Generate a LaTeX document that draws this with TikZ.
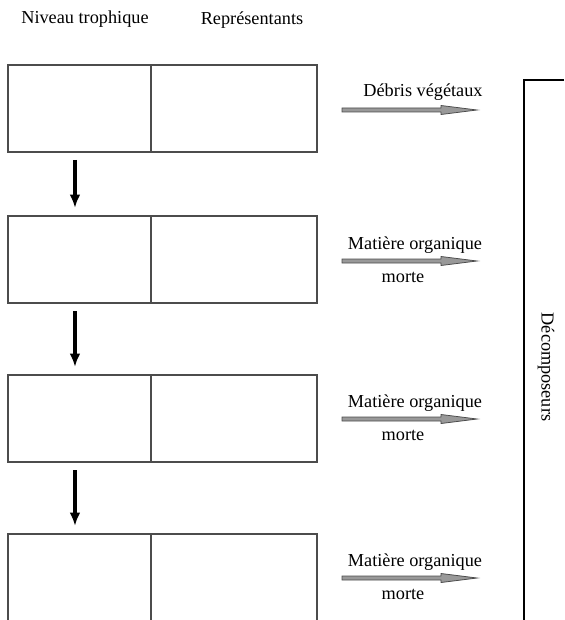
\documentclass[tikz,border=0pt]{standalone}
\usepackage{fontspec}
\setmainfont{Liberation Serif}
\usetikzlibrary{arrows.meta}

\tikzset{
  cellule/.style={draw=black!70, line width=0.8pt, inner sep=0pt, outer sep=0pt,
    anchor=north west, minimum height=65.25pt},
  descente/.style={line width=2.7pt, -{Latex[width=8pt,length=10pt]},
    shorten <=6pt, shorten >=6pt},
  etiquette/.style={font=\fontsize{13.7}{16}\selectfont, inner sep=0pt},
  flux/.pic={
    \draw[draw=black!70, fill=black!40, line width=0.6pt]
      (0,-2) -- (99,-2) -- (99,-4.5) -- (135,0) -- (99,4.5) -- (99,2) -- (0,2) -- cycle;
  },
}

\begin{document}
\begin{tikzpicture}[x=0.75pt, y=-0.75pt]
    \clip (0,0) rectangle (564,620);
    % titres des colonnes
    \node[etiquette] (titreniv) at (85,19) {Niveau trophique};
    \node[etiquette] (titrerep) at (252,20) {Représentants};
    % les cases
    \foreach \i/\y in {1/65,2/216,3/375,4/534}{
        \node[cellule, minimum width=107.25pt] (niv\i) at (8,\y) {};
        \node[cellule, minimum width=124.5pt] (rep\i) at (niv\i.north east) {};
    }
    \foreach \i/\j in {1/2,2/3,3/4}
        \draw[descente] ([xshift=-3.4pt]niv\i.south) -- ([xshift=-3.4pt]niv\j.north);
    % fleches grises
    \foreach \i/\y in {1/110,2/261,3/419,4/578}
        \pic (flux\i) at (342,\y) {flux};
    \node[etiquette] (debris) at (423,92) {Débris végétaux};
    \foreach \i/\y in {2/245,3/403,4/562}{
        \node[etiquette] (mat\i) at (415,\y) {Matière organique};
        \node[etiquette] (mor\i) at (403,\y+32) {morte};
    }
    % decomposeurs
    \coordinate (crochetd) at (564,80);
    \coordinate (crochet) at (524,80);
    \coordinate (crochetb) at (524,620);
    \draw[line width=0.9pt] (crochetd) -- (crochet) -- (crochetb);
    \node[etiquette, rotate=-90] (decomp) at (546,367) {Décomposeurs};
\end{tikzpicture}
\end{document}
